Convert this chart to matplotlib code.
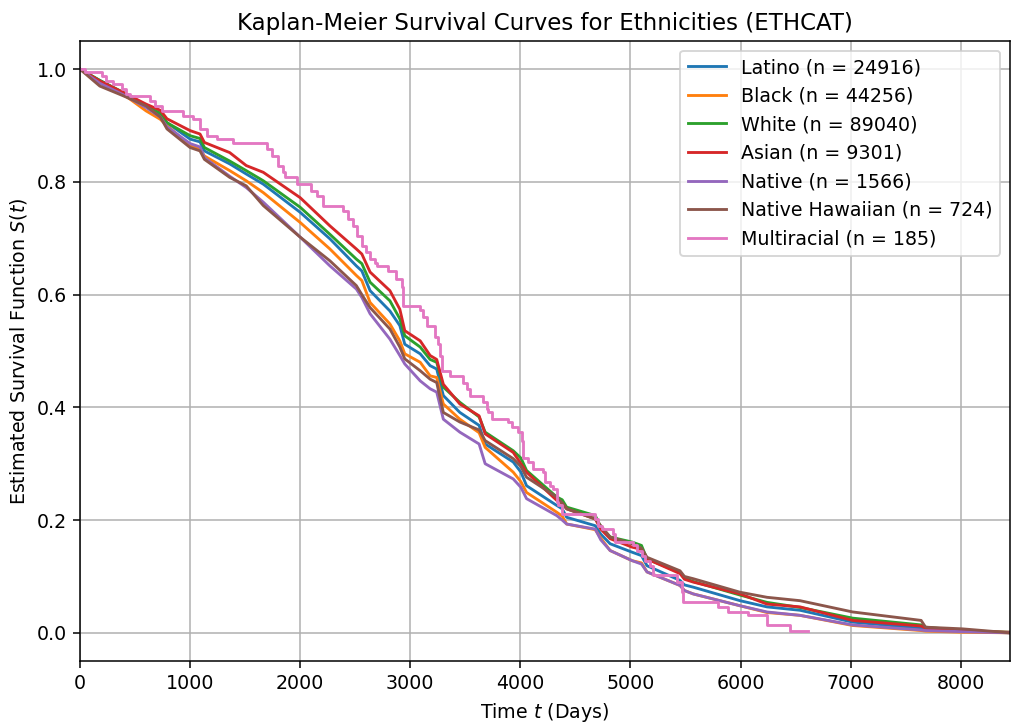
import matplotlib
matplotlib.use("Agg")
import matplotlib.pyplot as plt

# survival read at common time points (days) for the large groups
days = [0, 180, 390, 600, 730, 790, 1000, 1090, 1130, 1360, 1510, 1665, 2000,
        2270, 2510, 2560, 2635, 2815, 2905, 2950, 3090, 3180, 3240, 3300, 3450,
        3625, 3680, 3935, 4005, 4056, 4330, 4380, 4420, 4680, 4730, 4815, 5015,
        5100, 5150, 5450, 5490, 5570, 5995, 6240, 6540, 7018, 7640, 7680, 8017,
        8447]

latino = [1.0, 0.980, 0.958, 0.934, 0.920, 0.905, 0.876, 0.871, 0.855, 0.832,
          0.814, 0.796, 0.746, 0.699, 0.651, 0.642, 0.607, 0.571, 0.545, 0.512,
          0.495, 0.474, 0.468, 0.421, 0.391, 0.368, 0.335, 0.303, 0.285, 0.261,
          0.226, 0.220, 0.205, 0.190, 0.175, 0.158, 0.143, 0.137, 0.119, 0.093,
          0.085, 0.081, 0.057, 0.046, 0.040, 0.019, 0.008, 0.006, 0.003, 0.0]

black = [1.0, 0.979, 0.956, 0.926, 0.911, 0.900, 0.864, 0.859, 0.846, 0.820,
         0.802, 0.781, 0.728, 0.681, 0.634, 0.625, 0.586, 0.548, 0.518, 0.495,
         0.480, 0.456, 0.453, 0.406, 0.379, 0.355, 0.329, 0.285, 0.268, 0.249,
         0.214, 0.207, 0.193, 0.183, 0.168, 0.146, 0.128, 0.124, 0.108, 0.084,
         0.075, 0.069, 0.048, 0.036, 0.031, 0.013, 0.004, 0.003, 0.001, 0.0]

white = [1.0, 0.980, 0.959, 0.935, 0.922, 0.905, 0.882, 0.877, 0.861, 0.837,
         0.820, 0.802, 0.755, 0.707, 0.663, 0.655, 0.622, 0.589, 0.557, 0.527,
         0.507, 0.485, 0.480, 0.436, 0.409, 0.383, 0.356, 0.323, 0.310, 0.288,
         0.241, 0.236, 0.223, 0.208, 0.188, 0.170, 0.161, 0.155, 0.131, 0.107,
         0.097, 0.091, 0.067, 0.054, 0.045, 0.026, 0.014, 0.010, 0.004, 0.001]

asian = [1.0, 0.979, 0.959, 0.938, 0.927, 0.912, 0.891, 0.885, 0.870, 0.852,
         0.829, 0.817, 0.772, 0.722, 0.681, 0.672, 0.640, 0.607, 0.574, 0.536,
         0.518, 0.492, 0.485, 0.441, 0.406, 0.385, 0.353, 0.320, 0.300, 0.285,
         0.235, 0.230, 0.220, 0.202, 0.184, 0.167, 0.152, 0.148, 0.131, 0.105,
         0.095, 0.090, 0.069, 0.051, 0.046, 0.022, 0.012, 0.008, 0.003, 0.001]

native = [1.0, 0.975, 0.955, 0.932, 0.915, 0.898, 0.868, 0.862, 0.843, 0.810,
          0.790, 0.764, 0.702, 0.651, 0.610, 0.595, 0.566, 0.521, 0.492, 0.477,
          0.447, 0.433, 0.427, 0.379, 0.356, 0.335, 0.300, 0.273, 0.258, 0.238,
          0.208, 0.200, 0.193, 0.184, 0.165, 0.146, 0.128, 0.122, 0.108, 0.084,
          0.075, 0.069, 0.048, 0.037, 0.031, 0.014, 0.005, 0.004, 0.002, 0.0]

hawaiian = [1.0, 0.970, 0.953, 0.935, 0.915, 0.894, 0.861, 0.855, 0.840, 0.808,
            0.793, 0.758, 0.702, 0.660, 0.616, 0.600, 0.577, 0.539, 0.507, 0.486,
            0.465, 0.450, 0.444, 0.391, 0.374, 0.360, 0.341, 0.309, 0.295, 0.276,
            0.241, 0.230, 0.220, 0.202, 0.190, 0.170, 0.158, 0.150, 0.134, 0.110,
            0.100, 0.096, 0.072, 0.063, 0.057, 0.037, 0.022, 0.010, 0.007, 0.0]

# multiracial is small, read as a step function
multi_days = [0, 45, 200, 240, 303, 378, 420, 454, 636, 680, 742, 938, 1029,
              1090, 1150, 1241, 1392, 1695, 1740, 1800, 1840, 1862, 1968, 2100,
              2150, 2210, 2392, 2437, 2482, 2513, 2560, 2600, 2634, 2679, 2695,
              2800, 2870, 2921, 2937, 3088, 3118, 3149, 3224, 3255, 3270, 3290,
              3361, 3482, 3512, 3542, 3663, 3694, 3709, 3739, 3890, 3921, 3981,
              4011, 4027, 4072, 4117, 4208, 4223, 4269, 4299, 4330, 4344, 4375,
              4678, 4708, 4738, 4844, 4859, 5026, 5056, 5102, 5132, 5177, 5207,
              5419, 5465, 5480, 5798, 5889, 6070, 6237, 6449, 6612]
multi_surv = [1.0, 0.995, 0.988, 0.979, 0.973, 0.965, 0.956, 0.953, 0.944,
              0.935, 0.926, 0.917, 0.911, 0.894, 0.882, 0.876, 0.869, 0.858,
              0.846, 0.829, 0.817, 0.808, 0.796, 0.784, 0.775, 0.758, 0.749,
              0.734, 0.722, 0.704, 0.687, 0.675, 0.663, 0.657, 0.650, 0.642,
              0.628, 0.613, 0.580, 0.572, 0.560, 0.545, 0.524, 0.512, 0.492,
              0.465, 0.456, 0.444, 0.433, 0.421, 0.409, 0.397, 0.391, 0.379,
              0.374, 0.365, 0.356, 0.341, 0.311, 0.303, 0.291, 0.285, 0.267,
              0.261, 0.255, 0.232, 0.226, 0.211, 0.202, 0.190, 0.184, 0.176,
              0.161, 0.155, 0.146, 0.137, 0.128, 0.119, 0.102, 0.090, 0.072,
              0.054, 0.046, 0.037, 0.031, 0.013, 0.004, 0.004]

labels = ["Latino (n = 24916)", "Black (n = 44256)", "White (n = 89040)",
          "Asian (n = 9301)", "Native (n = 1566)", "Native Hawaiian (n = 724)",
          "Multiracial (n = 185)"]

dpi = 137
fig = plt.figure(figsize=(1011 / dpi, 723 / dpi), dpi=dpi)
ax = fig.add_axes([80 / 1011, 62 / 723, 930 / 1011, 620 / 723])

for surv, lab in zip([latino, black, white, asian, native, hawaiian], labels[:6]):
    ax.plot(days, surv, label=lab)
ax.step(multi_days, multi_surv, where="post", label=labels[6])

ax.set_xlim(0, days[-1])
ax.set_ylim(-0.05, 1.05)
ax.grid(True)
ax.set_title("Kaplan-Meier Survival Curves for Ethnicities (ETHCAT)")
ax.set_xlabel("Time $t$ (Days)")
ax.set_ylabel("Estimated Survival Function $S(t)$")
ax.legend(loc="upper right")

fig.savefig("out.png", dpi=dpi)
